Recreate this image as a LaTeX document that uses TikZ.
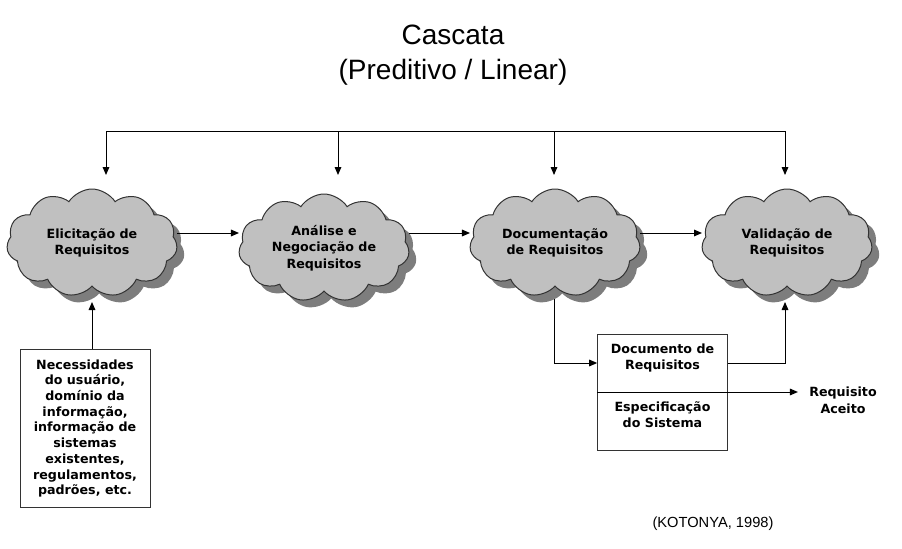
\documentclass[tikz,border=0pt]{standalone}
\usepackage{fontspec}
\setmainfont{DejaVu Sans}
\newfontfamily\titlefont{Liberation Sans}
\usetikzlibrary{shapes.symbols,shadows,arrows.meta,positioning}
\definecolor{cloudgray}{RGB}{192,192,192}
\definecolor{shadegray}{RGB}{125,125,125}

\begin{document}
\begin{tikzpicture}[x=0.75pt,y=0.75pt,yscale=-1,xscale=1,
  nuvem/.style={cloud, cloud puffs=11, cloud puff arc=115, cloud ignores aspect, draw=black!80, line width=0.75pt, fill=cloudgray, minimum width=128pt, minimum height=81pt, inner sep=0pt, align=center, font=\bfseries\fontsize{9.5}{12.5}\selectfont, drop shadow={fill=shadegray, opacity=1, shadow xshift=5.5pt, shadow yshift=-5.5pt}},
  caixa/.style={draw=black!80, line width=0.75pt, fill=white, align=center, font=\bfseries\fontsize{9.5}{11.8}\selectfont, inner sep=0pt, outer sep=0pt},
  seta/.style={-{Triangle[length=6pt,width=5pt]}, line width=0.75pt}]
\useasboundingbox (0,0) rectangle (902,549);

% Text Node
\node [align=center, font=\titlefont\fontsize{21}{26}\selectfont] (titulo) at (453,55) {Cascata\\(Preditivo / Linear)};

%Shape: Cloud
\node [nuvem] (elic) at (92,243) {Elicitação de\\Requisitos};
%Shape: Cloud
\node [nuvem] (anal) at (324,248) {Análise e\\Negociação de\\Requisitos};
%Shape: Cloud
\node [nuvem] (docu) at (555,243) {Documentação\\de Requisitos};
%Shape: Cloud
\node [nuvem] (vali) at (787,243) {Validação de\\Requisitos};

%Shape: Rectangle
\node [caixa, minimum width=97.5pt, minimum height=119pt] (neces) at (85,428.5) {Necessidades\\do usuário,\\domínio da\\informação,\\informação de\\sistemas\\existentes,\\regulamentos,\\padrões, etc.};
%Shape: Rectangle
\node [caixa, minimum width=98pt, minimum height=43.5pt, text depth=10pt] (docreq) at (662.5,363) {Documento de\\Requisitos};
%Shape: Rectangle
\node [caixa, minimum width=98pt, minimum height=43.5pt, text depth=10pt, below=0pt of docreq] (docesp) {Especificação\\do Sistema};

% Text Node
\node [align=center, font=\bfseries\fontsize{9.5}{12.5}\selectfont] (aceito) at (843,400) {Requisito\\Aceito};
% Text Node
\node [font=\titlefont\fontsize{11}{13}\selectfont] (fonte) at (713,524) {(KOTONYA, 1998)};

\coordinate (topo) at (0,132);
\coordinate (nivel) at (0,233);
\coordinate (e1) at (106,175);
\coordinate (e2) at (338,175);
\coordinate (e3) at (554,175);
\coordinate (e4) at (785,175);
\coordinate (s1) at (92,302);
\coordinate (s3) at (554,299);
\coordinate (s4) at (785,302);

%Straight Lines
\draw [{Triangle[length=6pt,width=5pt]}-{Triangle[length=6pt,width=5pt]}, line width=0.75pt] (e1) -- (e1 |- topo) -- (e4 |- topo) -- (e4);
\draw [seta] (e2 |- topo) -- (e2);
\draw [seta] (e3 |- topo) -- (e3);

\draw [seta] (elic.east |- nivel) -- (anal.west |- nivel);
\draw [seta] (anal.east |- nivel) -- (docu.west |- nivel);
\draw [seta] (docu.east |- nivel) -- (vali.west |- nivel);

\draw [seta] (s1 |- neces.north) -- (s1);
\draw [seta] (s3) |- (docreq.west);
\draw [seta] (docreq.east) -| (s4);
\draw [seta, shorten >=5pt] (docreq.south west) -- (docreq.south west -| aceito.west);

\end{tikzpicture}
\end{document}
